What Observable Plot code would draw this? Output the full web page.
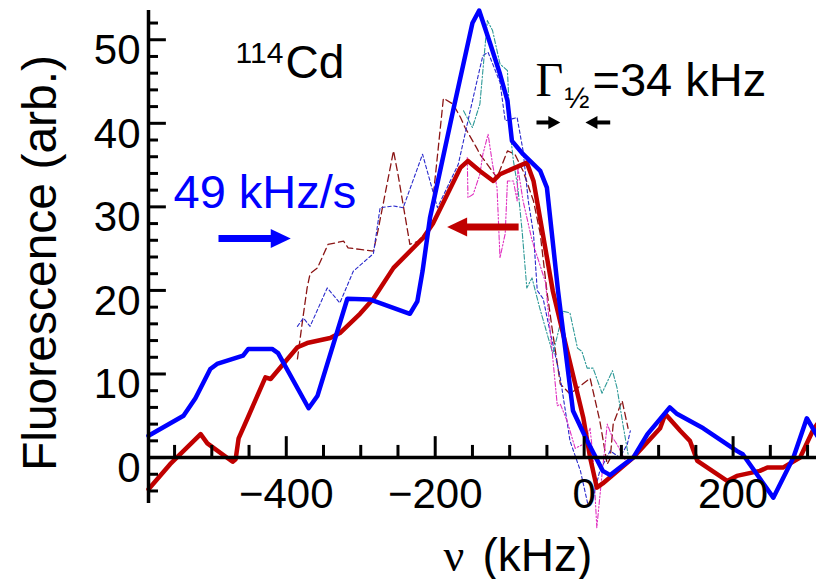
<!DOCTYPE html>
<html><head><meta charset="utf-8">
<script src="https://cdn.jsdelivr.net/npm/d3@7"></script>
<script src="https://cdn.jsdelivr.net/npm/@observablehq/plot@0.6"></script>
<style>
body{margin:0;background:#fff}
#chart svg{display:block}
</style>
</head><body><div id="chart"></div>
<script>
// ---- data: [frequency kHz, fluorescence arb.] ----
const scanBlueThick = [[-585,2.6],[-538,5.0],[-522,7.1],[-502,10.6],[-493,11.2],[-458,12.2],[-451,13.0],[-419,13.0],[-411,12.5],[-370,5.9],[-358,7.4],[-318,19.0],[-287,18.9],[-234,17.2],[-224,18.7],[-217,22.3],[-207,28.7],[-176,41.5],[-150,52],[-141,53.5],[-126,49.5],[-113,45.9],[-103,42.7],[-97,37.9],[-82,36.3],[-59,34.3],[-50,32.3],[-35,19.9],[-15,5.6],[4,2.0],[25,-1.6],[35,-2.1],[48,-1.2],[66,0],[85,2.8],[115,6.0],[125,5.2],[160,3.5],[205,0.8],[213,0.4],[254,-4.8],[281,0],[299,4.7],[307,3.5],[313,2.6]];
const scanRedThick = [[-585,-3.8],[-556,-0.8],[-515,2.8],[-506,1.7],[-472,-0.5],[-468,-0.2],[-464,2.3],[-452,4.7],[-428,9.6],[-421,9.4],[-385,13.2],[-372,13.7],[-341,14.3],[-328,14.9],[-301,17.2],[-283,19.0],[-256,22.7],[-216,26.3],[-203,28.0],[-166,34.7],[-156,35.5],[-140,34.3],[-122,33.1],[-113,33.9],[-77,35.3],[-68,33.1],[-42,19.9],[-1,4.7],[8,0],[17,-3.6],[25,-3.1],[66,0],[102,3.5],[109,5.2],[129,3.2],[142,2.0],[152,-0.4],[192,-2.8],[205,-2.2],[236,-1.6],[246,-1.2],[267,-1.2],[290,0],[307,3.2],[313,4.0]];
const traceDarkRed = [[-385,11.8],[-378,16.5],[-372,20.3],[-368,22],[-358,22.7],[-344,25.5],[-323,25.9],[-317,25.1],[-301,24.9],[-283,24.7],[-277,27.1],[-256,36.7],[-250,33.9],[-234,25.5],[-223,25.9],[-207,27.5],[-189,43],[-176,42.3],[-166,40.7],[-160,39.5],[-144,37],[-140,36.3],[-117,33.5],[-103,36.7],[-93,36.3],[-82,34.3],[-68,30.7],[-59,26.8],[-50,19.9],[-42,14.8],[-32,8.8],[-19,7.6],[8,9.5],[21,4.4],[31,-0.8],[35,-0.1],[39,4.0],[51,6.8],[59,3.5]];
const traceBlue = [[-385,15.7],[-377,16.7],[-368,15.7],[-345,20.3],[-328,18.5],[-310,22.3],[-283,24.4],[-274,29.9],[-256,30.1],[-243,29.9],[-217,36.3],[-207,33.1],[-197,29.9],[-169,35.1],[-153,41.5],[-140,46.6],[-136,48.1],[-129,48.5],[-113,44.9],[-106,40.3],[-90,40.7],[-82,36.7],[-75,30.7],[-68,26.8],[-63,20],[-55,19],[-48,16],[-32,9.5],[-19,2],[-5,-1.6],[5,-5.6],[12,-4.8],[21,-1.6],[35,0.8],[48,0],[58,1.6],[62,3.2]];
const traceTeal = [[-162,41.5],[-150,39.5],[-140,42.3],[-130,52.3],[-123,51.1],[-113,47.1],[-103,46.3],[-99,38.7],[-95,35.5],[-89,32.3],[-83,26.8],[-77,20.3],[-70,21.5],[-60,18],[-42,12.4],[-28,17.5],[-19,17.3],[-9,13.1],[-3,12.7],[4,10.7],[12,10.7],[24,7.7],[38,10.4],[44,8.4],[52,4],[59,0.4]];
const traceMagenta = [[-157,35.9],[-156,31.1],[-149,31.5],[-140,33.9],[-136,36.3],[-129,38.7],[-123,35.1],[-117,32.3],[-113,23.9],[-106,26.8],[-103,33.1],[-95,33.1],[-90,30.7],[-89,34.7],[-82,30.7],[-70,26],[-52,21],[-46,15.5],[-36,6.2],[-32,6.4],[-23,4.4],[-12,1.1],[-1,1.6],[8,3.5],[12,0],[17,-8.4],[24,-2],[31,4],[38,2.4],[44,1.6],[58,-0.8]];

// ---- ticks ----
const xTickLabels = [-400,-200,0,200];
const xMinorTicks = [-550,-500,-450,-350,-300,-250,-150,-100,-50,50,100,150,250,300];
const yTickLabels = [0,10,20,30,40,50];
const yMinorTicks = [-4,-2,2,4,6,8,12,14,16,18,22,24,26,28,32,34,36,38,42,44,46,48,52];

// ---- annotation arrows (frequency kHz, fluorescence) ----
const scanArrows = [
  {x1:-491, x2:-417, tip:-394, y:26.2, color:"#0000ff", dir:"right"},
  {x1:-88, x2:-162, tip:-184, y:27.6, color:"#c00000", dir:"left"}
];
const widthArrows = [
  {x1:-64, x2:-45, tip:-32, y:40.1, dir:"right"},
  {x1:35, x2:15, tip:1.7, y:40.1, dir:"left"}
];

const X0 = -585, X1 = 312, Y0 = -5.5, Y1 = 53.5;
const sans = "Liberation Sans, Arial, Helvetica, sans-serif";
const serif = "Liberation Serif, Times New Roman, serif";
const fmt = d => d < 0 ? "\u2212" + (-d) : String(d);
const head = (L, W) => ({draw(ctx){ ctx.moveTo(0,0); ctx.lineTo(-L,-W/2); ctx.lineTo(-L,W/2); ctx.closePath(); }});
const bigHead = head(20, 19), smallHead = head(12, 13);

const chart = Plot.plot({
  width: 816, height: 579,
  marginLeft: 148, marginRight: 0, marginTop: 10, marginBottom: 76,
  x: {domain: [X0, X1], axis: null},
  y: {domain: [Y0, Y1], axis: null},
  style: {fontFamily: sans, background: "white", overflow: "visible", color: "black"},
  marks: [
    Plot.line(traceDarkRed, {stroke: "#8b1515", strokeWidth: 1.3, strokeDasharray: "7,4"}),
    Plot.line(traceBlue, {stroke: "#2a2acc", strokeWidth: 1.1, strokeDasharray: "3.5,2.5"}),
    Plot.line(traceTeal, {stroke: "#2f9a98", strokeWidth: 1.1, strokeDasharray: "5,2,1.5,2"}),
    Plot.line(traceMagenta, {stroke: "#e030c0", strokeWidth: 1.1, strokeDasharray: "5,2,1.5,2,1.5,2"}),
    Plot.line(scanRedThick, {stroke: "#c00000", strokeWidth: 4.5}),
    Plot.line(scanBlueThick, {stroke: "#0000ff", strokeWidth: 4.5}),
    // axes
    Plot.ruleY([0], {strokeWidth: 3.5}),
    Plot.ruleX([X0], {y1: Y0, y2: Y1, strokeWidth: 3.5}),
    Plot.ruleX(xTickLabels, {y1: 0, y2: 2.5, strokeWidth: 3}),
    Plot.ruleX(xMinorTicks, {y1: 0, y2: 1.45, strokeWidth: 3}),
    Plot.ruleY(yTickLabels, {x1: X0, x2: X0 + 24, strokeWidth: 3}),
    Plot.ruleY(yMinorTicks, {x1: X0, x2: X0 + 13.4, strokeWidth: 3}),
    Plot.text(yTickLabels, {x: X0, y: d => d, text: fmt, textAnchor: "end", dx: -8, dy: 11, fontSize: 42}),
    Plot.text(xTickLabels, {x: d => d, y: 0, text: fmt, dy: 37, fontSize: 42}),
    // axis titles
    Plot.text(["\u03BD"], {frameAnchor: "bottom-left", dx: 443 - 148, dy: 67, textAnchor: "start", lineAnchor: "bottom", fontSize: 46, fontFamily: serif}),
    Plot.text(["(kHz)"], {frameAnchor: "bottom-left", dx: 482 - 148, dy: 67, textAnchor: "start", lineAnchor: "bottom", fontSize: 46}),
    Plot.text(["Fluorescence (arb.)"], {frameAnchor: "left", rotate: -90, textAnchor: "middle", lineAnchor: "middle", dx: 40 - 148, dy: 6, fontSize: 48}),
    // annotations
    Plot.text(["114"], {frameAnchor: "top-left", dx: 87, dy: 52, textAnchor: "start", lineAnchor: "bottom", fontSize: 30}),
    Plot.text(["Cd"], {frameAnchor: "top-left", dx: 137, dy: 67, textAnchor: "start", lineAnchor: "bottom", fontSize: 46}),
    Plot.text(["49 kHz/s"], {frameAnchor: "top-left", dx: 25, dy: 197, textAnchor: "start", lineAnchor: "bottom", fontSize: 47, fill: "#0000ff"}),
    Plot.text(["\u0393"], {frameAnchor: "top-left", dx: 387, dy: 85, textAnchor: "start", lineAnchor: "bottom", fontSize: 48, fontFamily: serif}),
    Plot.text(["\u00BD"], {frameAnchor: "top-left", dx: 416, dy: 97, textAnchor: "start", lineAnchor: "bottom", fontSize: 30}),
    Plot.text(["=34 kHz"], {frameAnchor: "top-left", dx: 444, dy: 85, textAnchor: "start", lineAnchor: "bottom", fontSize: 47}),
    // arrows
    Plot.link(scanArrows, {x1: "x1", x2: "x2", y1: "y", y2: "y", stroke: "color", strokeWidth: 7}),
    Plot.dot(scanArrows, {x: "tip", y: "y", symbol: bigHead, fill: "color", stroke: null, rotate: d => d.dir === "left" ? 180 : 0}),
    Plot.link(widthArrows, {x1: "x1", x2: "x2", y1: "y", y2: "y", stroke: "black", strokeWidth: 4}),
    Plot.dot(widthArrows, {x: "tip", y: "y", symbol: smallHead, fill: "black", stroke: null, rotate: d => d.dir === "left" ? 180 : 0})
  ]
});
document.getElementById("chart").appendChild(chart);
</script>
</body></html>
